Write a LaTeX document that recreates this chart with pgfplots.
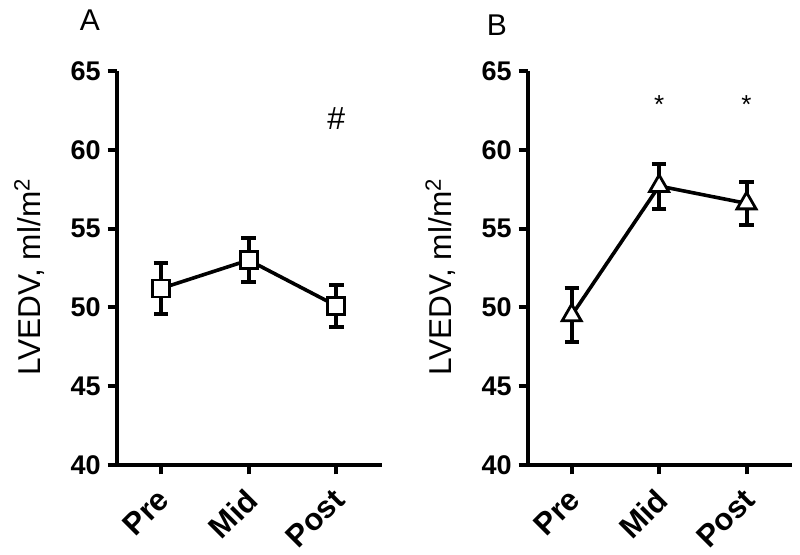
\documentclass[border=0pt]{standalone}
\usepackage{fontspec}
\setmainfont{Liberation Sans}
\usepackage{pgfplots}
\pgfplotsset{compat=1.18}
\pgfplotsset{
 panel/.style={
  scale only axis, height=197pt,
  axis lines=left, axis line style={-, line width=2pt},
  xmin=-0.5, xmax=2.52, ymin=40, ymax=65,
  ytick={40,45,...,65}, xtick={0,1,2}, xticklabels={Pre,Mid,Post},
  tick align=outside, major tick length=4.7pt,
  tick style={line width=2pt, black},
  yticklabel style={font=\fontsize{13.5}{14}\selectfont\bfseries},
  /pgf/number format/assume math mode=true,
  xticklabel style={font=\fontsize{15.5}{16}\selectfont\bfseries, xshift=-2.5pt, yshift=-4.5pt, rotate=45, anchor=north east, inner sep=1pt},
  ylabel={LVEDV, ml/m\textsuperscript{2}},
  ylabel style={font=\fontsize{15.8}{16}\selectfont, at={(axis description cs:-0.29,0.477)}, anchor=base},
  clip=false,
 },
 ser/.style={black, line width=1.8pt,
  error bars/y dir=both, error bars/y explicit, error bars/error mark=-,
  error bars/error bar style={line width=2pt},
  error bars/error mark options={rotate=90, mark size=3.6pt, line width=2pt}},
}
\pgfplotstableread{
x y e
0 51.2 1.6
1 53.0 1.4
2 50.1 1.35
}\dataA
\pgfplotstableread{
x y e
0 49.5 1.7
1 57.7 1.43
2 56.6 1.34
}\dataB
\begin{document}
\begin{tikzpicture}[x=1pt,y=1pt]
\useasboundingbox (0,0) rectangle (400,277);
\node[font=\fontsize{15}{15}\selectfont, anchor=base] at (45,262) {A};
\node[font=\fontsize{15}{15}\selectfont, anchor=base] at (248.5,259.5) {B};
\begin{axis}[panel, width=132.5pt, at={(58.5pt,44.5pt)}, anchor=south west]
\addplot[ser, mark=square*, mark size=4.25pt, mark options={fill=white, line width=1.4pt, solid}] table[x=x, y=y, y error=e] {\dataA};
\node[font=\fontsize{16}{16}\selectfont, anchor=center] at (axis cs:2,62.0) {\#};
\end{axis}
\begin{axis}[panel, width=132pt, at={(264pt,44.5pt)}, anchor=south west]
\addplot[ser, mark=triangle*, mark size=5.5pt, mark options={fill=white, line width=1.4pt, solid}] table[x=x, y=y, y error=e] {\dataB};
\node[font=\fontsize{13}{13}\selectfont, anchor=base] at (axis cs:1,62.3) {*};
\node[font=\fontsize{13}{13}\selectfont, anchor=base] at (axis cs:2,62.3) {*};
\end{axis}
\end{tikzpicture}
\end{document}
